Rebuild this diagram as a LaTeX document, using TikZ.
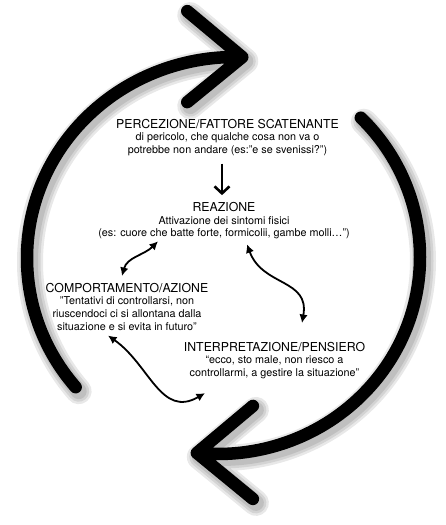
\documentclass[tikz,border=0pt]{standalone}
\usepackage{fontspec}
\setmainfont{TeX Gyre Heros}
\usetikzlibrary{arrows.meta,positioning}
\tikzset{
  ring/.style={line width=12.5pt, line cap=round, line join=round},
  ringshade/.style={ring, draw=black, opacity=0.09, line width=#1},
  stage/.style={align=center, inner sep=0pt, font=\fontsize{10.8}{12.6}\selectfont},
  flow/.style={-{Straight Barb[length=7pt,width=15pt]}, line width=2.6pt},
  swap/.style={{Latex[length=8.5pt,width=8.5pt]}-{Latex[length=8.5pt,width=8.5pt]}, line width=1.8pt}
}
\newcommand{\hd}[1]{{\fontsize{12.3}{12.6}\selectfont #1}}
\newcommand{\cyclering}[1]{%
  \draw[#1] (235,267) ++(220:208pt and 201pt) arc[start angle=220, end angle=88, x radius=208pt, y radius=201pt] coordinate (ltip)
    (ltip) ++(-55,46) -- (ltip) -- ++(-55,-45);
  \draw[#1] (218,268) ++(45:202pt and 197pt) arc[start angle=45, end angle=-96, x radius=202pt, y radius=197pt] coordinate (rtip)
    (rtip) ++(56,47) -- (rtip) -- ++(56,-46);}

\begin{document}
\begin{tikzpicture}[x=1pt, y=1pt]
\useasboundingbox[fill=white] (0,0) rectangle (445,525);
% soft shadow of the cycle
\begin{scope}[shift={(3,-4)}]
  \cyclering{ringshade=26pt}
  \cyclering{ringshade=21pt}
  \cyclering{ringshade=16pt}
\end{scope}
\cyclering{ring}

\node[stage, anchor=north] (perc) at (227.5,406) {\hd{PERCEZIONE/FATTORE SCATENANTE}\\
  di pericolo, che qualche cosa non va o\\ potrebbe non andare (es:"e se svenissi?")};
\node[stage, below=46pt of perc, xshift=-3.5pt] (reac) {\hd{REAZIONE}\\
  Attivazione dei sintomi fisici\\ (es: cuore che batte forte, formicolii, gambe molli…")};
\node[stage, anchor=north] (comp) at (127,242) {\hd{COMPORTAMENTO/AZIONE}\\
  "Tentativi di controllarsi, non\\ riuscendoci ci si allontana dalla\\ situazione e si evita in futuro"};
\node[stage, anchor=north] (interp) at (274.5,183) {\hd{INTERPRETAZIONE/PENSIERO}\\
  “ecco, sto male, non riesco a\\ controllarmi, a gestire la situazione”};

\draw[flow] ([xshift=-5.5pt,yshift=-7.5pt]perc.south) -- ([xshift=-2pt,yshift=7pt]reac.north);
\draw[swap] ([xshift=-5pt,yshift=7pt]comp.north) to[out=75,in=225] ([xshift=-66pt,yshift=-2pt]reac.south);
\draw[swap] ([xshift=23pt,yshift=-5pt]reac.south) to[out=-70,in=80,looseness=1.2] ([xshift=27.5pt,yshift=19pt]interp.north);
\draw[swap] ([xshift=-19pt,yshift=-5pt]comp.south) to[out=-35,in=210,looseness=1.15] ([xshift=-69.5pt,yshift=-14pt]interp.south);
\end{tikzpicture}
\end{document}
